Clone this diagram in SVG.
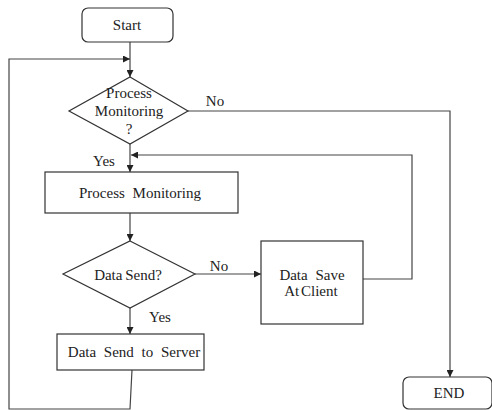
<svg xmlns="http://www.w3.org/2000/svg" width="492" height="410" viewBox="0 0 492 410">
<defs>
<marker id="arr" viewBox="0 0 10 10" refX="10" refY="5" markerWidth="7" markerHeight="7" orient="auto" markerUnits="userSpaceOnUse">
<path d="M0,0 L10,5 L0,10 Z" fill="#222"/>
</marker>
<style>
.n{fill:#fff;stroke:#333;stroke-width:1.2}
.c{fill:none;stroke:#444;stroke-width:1.2}
.t{font-size:15px;fill:#222;text-anchor:middle}
</style>
</defs>
<rect width="492" height="410" fill="#fff"/>
<g id="connectors">
<path class="c" d="M130,42 V77" marker-end="url(#arr)"/>
<path class="c" d="M132,370 L130,409 H9 V59 H130" marker-end="url(#arr)"/>
<path class="c" d="M188,111 H450 V377" marker-end="url(#arr)"/>
<path class="c" d="M130,144 V172" marker-end="url(#arr)"/>
<path class="c" d="M363,279 H412 V155 H131" marker-end="url(#arr)"/>
<path class="c" d="M130,213 V241" marker-end="url(#arr)"/>
<path class="c" d="M195,274 H261" marker-end="url(#arr)"/>
<path class="c" d="M130,308 V334" marker-end="url(#arr)"/>
</g>
<g font-family="Liberation Serif, serif">
<g id="start">
<rect class="n" x="82" y="8" width="91" height="34" rx="6"/>
<text class="t" x="127" y="30">Start</text>
</g>
<g id="decision1">
<polygon class="n" points="130,77 188,111 130,144 69,111"/>
<text class="t" x="129" y="98">Process</text>
<text class="t" x="129" y="116">Monitoring</text>
<text class="t" x="129" y="134">?</text>
</g>
<text class="t" x="215" y="106">No</text>
<text class="t" x="104" y="166">Yes</text>
<g id="process">
<rect class="n" x="45" y="172" width="193" height="41"/>
<text class="t" x="140" y="198" word-spacing="4">Process Monitoring</text>
</g>
<g id="decision2">
<polygon class="n" points="130,241 195,274 130,308 63,274"/>
<text class="t" x="128" y="280" word-spacing="-1">Data Send?</text>
</g>
<text class="t" x="219" y="271">No</text>
<text class="t" x="160" y="322">Yes</text>
<g id="save">
<rect class="n" x="261" y="241" width="102" height="83"/>
<text class="t" x="312" y="280" word-spacing="4">Data Save</text>
<text class="t" x="311" y="296" word-spacing="-2">At Client</text>
</g>
<g id="send">
<rect class="n" x="57" y="334" width="147" height="36"/>
<text class="t" x="134" y="357" word-spacing="4">Data Send to Server</text>
</g>
<g id="end">
<rect class="n" x="403" y="377" width="89" height="32" rx="6"/>
<text class="t" x="449" y="398">END</text>
</g>
</g>
</svg>
